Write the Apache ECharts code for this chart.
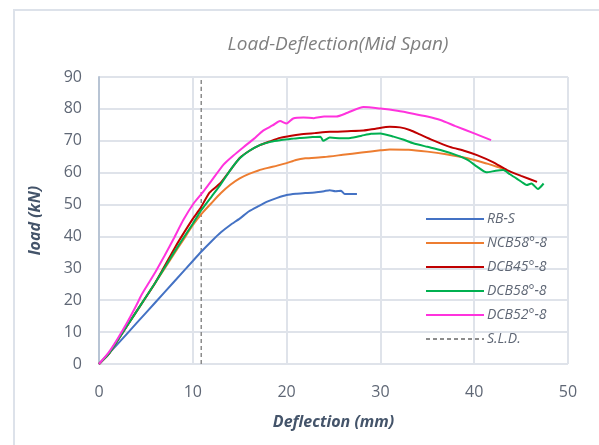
<!DOCTYPE html>
<html>
<head>
<meta charset="utf-8">
<script src="https://cdn.jsdelivr.net/npm/echarts@6/dist/echarts.min.js"></script>
<style>
  body { margin: 0; background: #fff; }
  #frame { position: absolute; left: 13px; top: 9px; width: 600px; height: 460px; border: 2px solid #dde2ea; }
  #main { position: absolute; left: 0; top: 0; width: 599px; height: 445px; }
</style>
</head>
<body>
<div id="frame"></div>
<div id="main"></div>
<script type="text/javascript">
  // 数据 (deflection mm, load kN)
  var rbS = [[0,0],[2,6.3],[4,12.8],[6,19.3],[8,25.8],[10,32.3],[11,35.5],[12,38.5],[13,41.3],[14,43.6],[15,45.6],[16,47.9],[17,49.5],[18,51],[19,52.1],[20,53],[21,53.4],[22,53.6],[23,53.8],[24,54.2],[24.6,54.5],[25.2,54.2],[25.8,54.3],[26.2,53.3],[27.5,53.3]];
  var ncb58 = [[0,0],[1,3],[2,7.5],[4,16.5],[6,25.5],[8,34.5],[9,39],[10,43.5],[11,47.3],[12,50.5],[13,53.6],[14,56.2],[15,58.2],[16,59.6],[17,60.7],[18,61.5],[19,62.2],[20,63],[21,64],[22,64.5],[24,64.9],[26,65.6],[28,66.3],[30,67],[31,67.3],[33,67.2],[35,66.6],[37,65.8],[38.5,65],[40,64],[41.3,62.9],[42.5,61.8],[43.5,60.8]];
  var dcb45 = [[0,0],[1,3],[2,7.5],[4,16.5],[6,25.5],[8,36],[8.6,39],[10,45.5],[10.8,48.8],[11.8,53.8],[12.9,56.6],[14,60.8],[15,64.6],[16,66.8],[17.2,68.7],[18.3,69.9],[19.3,70.9],[20.5,71.6],[21.4,72],[23,72.4],[24.6,72.8],[26.5,73],[28.2,73.2],[29.5,73.8],[31,74.4],[32.1,74.2],[33.2,73.3],[34.2,72],[35.5,70.3],[37.4,68.1],[39,66.8],[40.3,65.5],[42,63.3],[43.5,60.8],[45,59],[46.7,57.1]];
  var dcb58 = [[0,0],[1,3],[2,7.5],[4,16.5],[6,25.5],[8,35],[10,44],[10.8,47.8],[12,52.5],[12.9,56],[14,60.8],[15,64.5],[16,66.8],[17.2,68.7],[18.3,69.7],[19.3,70.2],[20.5,70.6],[21.4,70.9],[22.5,71.1],[23.6,71.3],[23.9,70],[24.6,71],[25.8,70.8],[26.8,70.9],[28,71.6],[29,72.2],[30,72.3],[31.4,71.3],[32.5,70.3],[33.5,69.2],[35,68.1],[36.4,67.1],[38.1,65.5],[39.3,64],[40.3,61.9],[41.3,60.1],[42.3,60.6],[43.1,60.8],[43.8,59.5],[44.5,58.2],[45.1,57],[45.6,56.1],[46.1,56.6],[46.8,54.9],[47.4,56.6]];
  var dcb52 = [[0,0],[1,3.5],[2,8],[3,13],[4,18.5],[4.5,21.5],[5,24],[6,28.8],[7,34],[8,39.5],[9,45.2],[10.1,50.4],[11.1,54],[12,57.5],[13.3,62.6],[14.3,65.3],[15.4,68],[16.5,70.6],[17.5,73.2],[18.5,74.8],[19.3,76.2],[20,75.4],[20.7,77],[21.8,77.3],[22.9,77.1],[24,77.6],[25.3,77.6],[26.5,78.8],[28.2,80.6],[30,80.1],[31.8,79.4],[33.5,78.5],[35,77.6],[36.4,76.5],[38,74.6],[40,72.3],[41.8,70.2]];
  var sld = [[10.9,0],[10.9,90]];

  var names = ['RB-S', 'NCB58°-8', 'DCB45°-8', 'DCB58°-8', 'DCB52°-8', 'S.L.D.'];
  var colors = ['#4472c4', '#ed7d31', '#c00000', '#00b050', '#ff33dd', '#8c8c8c'];
  var datas = [rbS, ncb58, dcb45, dcb58, dcb52, sld];

  var myChart = echarts.init(document.getElementById('main'));
  var font = "'Open Sans', sans-serif";

  var series = datas.map(function (d, i) {
    return {
      name: names[i],
      type: 'line',
      data: d,
      showSymbol: false,
      symbol: 'none',
      smooth: 0.2,
      z: i == 5 ? 1 : 3 + i,
      lineStyle: { width: i == 5 ? 1.5 : 2, color: colors[i], type: i == 5 ? [4, 3] : 'solid' },
      itemStyle: { color: colors[i] }
    };
  });

  var option = {
    animation: false,
    title: {
      text: 'Load-Deflection(Mid Span)',
      left: 333,
      top: 30,
      textAlign: 'center',
      textStyle: { fontFamily: font, fontStyle: 'italic', fontWeight: 'normal', fontSize: 19, color: '#7f7f7f' }
    },
    legend: {
      orient: 'vertical',
      left: 420,
      top: 207,
      itemWidth: 58,
      itemHeight: 10,
      itemGap: 10,
      data: names,
      itemStyle: { opacity: 0 },
      textStyle: { fontFamily: font, fontStyle: 'italic', fontSize: 14, color: '#5f6775', padding: [0, 0, 0, -2] }
    },
    grid: { left: 99, right: 31, top: 77, bottom: 81 },
    xAxis: {
      type: 'value',
      min: 0, max: 50, interval: 10,
      name: 'Deflection (mm)',
      nameLocation: 'middle',
      nameGap: 50,
      nameTextStyle: { fontFamily: font, fontStyle: 'italic', fontWeight: 'bold', fontSize: 16, color: '#44546a' },
      axisLine: { show: false },
      axisTick: { show: false },
      axisLabel: { fontFamily: font, fontSize: 16, color: '#5f6775', margin: 20 },
      splitLine: { show: true, lineStyle: { color: '#dfe3ea', width: 2 } }
    },
    yAxis: {
      type: 'value',
      min: 0, max: 90, interval: 10,
      name: 'load (kN)',
      nameLocation: 'middle',
      nameGap: 56,
      nameTextStyle: { fontFamily: font, fontStyle: 'italic', fontWeight: 'bold', fontSize: 16, color: '#44546a' },
      axisLine: { show: true, lineStyle: { color: '#b8c4d4', width: 2 } },
      axisTick: { show: false },
      axisLabel: { fontFamily: font, fontSize: 16, color: '#5f6775', margin: 17 },
      splitLine: { show: true, lineStyle: { color: '#dfe3ea', width: 2 } }
    },
    series: series
  };
  myChart.setOption(option);
</script>
</body>
</html>
